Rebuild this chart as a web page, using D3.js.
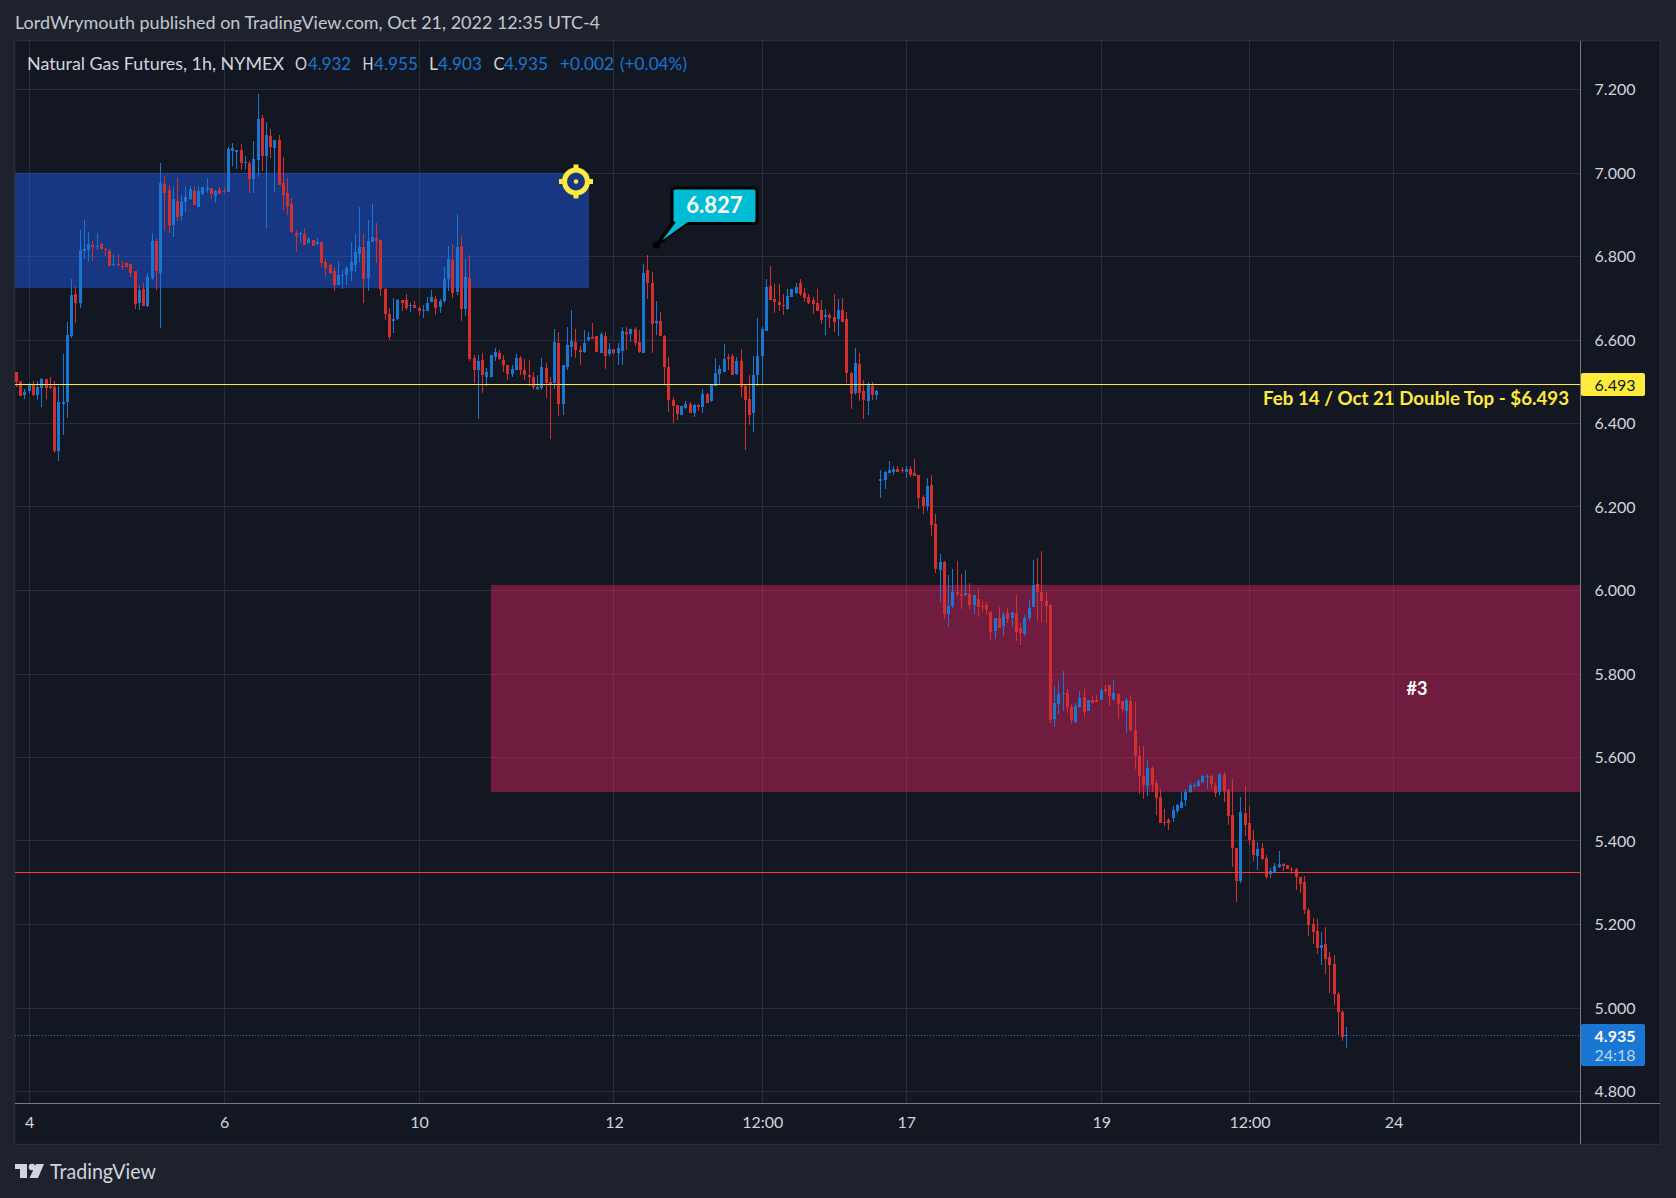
<!DOCTYPE html>
<html><head><meta charset="utf-8">
<script src="https://cdn.jsdelivr.net/npm/d3@7"></script>
<style>
html,body{margin:0;padding:0;background:#1e222d;overflow:hidden}
svg{display:block}
text{font-family:Lato,"Open Sans",sans-serif}
</style></head><body>
<svg id="c" width="1676" height="1198"></svg>
<script>
const opens=[6.523,6.501,6.468,6.477,6.494,6.468,6.485,6.506,6.489,6.487,
6.334,6.446,6.451,6.609,6.710,6.688,6.813,6.815,6.827,6.822,
6.830,6.818,6.813,6.779,6.782,6.777,6.784,6.782,6.765,6.688,
6.722,6.681,6.748,6.837,6.760,6.973,6.959,6.875,6.932,6.897,
6.930,6.937,6.956,6.918,6.949,6.959,6.964,6.944,6.959,6.956,
6.954,7.052,7.050,7.055,7.024,7.024,6.985,7.031,7.131,7.040,
7.088,7.059,7.079,6.976,6.952,6.925,6.856,6.853,6.853,6.832,
6.839,6.830,6.834,6.786,6.779,6.765,6.731,6.753,6.755,6.765,
6.779,6.806,6.822,6.748,6.834,6.844,6.839,6.722,6.662,6.645,
6.650,6.695,6.695,6.681,6.683,6.676,6.669,6.669,6.691,6.698,
6.679,6.693,6.746,6.791,6.715,6.824,6.675,6.749,6.558,6.527,
6.553,6.512,6.512,6.560,6.570,6.553,6.539,6.519,6.529,6.558,
6.529,6.517,6.512,6.483,6.486,6.534,6.500,6.498,6.594,6.447,
6.536,6.584,6.596,6.577,6.572,6.601,6.606,6.610,6.570,6.610,
6.567,6.579,6.570,6.574,6.620,6.615,6.627,6.596,6.570,6.768,
6.737,6.641,6.646,6.610,6.536,6.457,6.445,6.421,6.438,6.447,
6.426,6.445,6.440,6.471,6.455,6.491,6.519,6.524,6.560,6.562,
6.519,6.550,6.491,6.459,6.424,6.515,6.562,6.622,6.730,6.699,
6.692,6.685,6.675,6.704,6.713,6.737,6.713,6.704,6.697,6.689,
6.673,6.656,6.661,6.656,6.651,6.673,6.651,6.522,6.474,6.543,
6.479,6.455,6.491,6.469,6.263,6.265,6.282,6.285,6.292,6.289,
6.285,6.292,6.282,6.277,6.225,6.203,6.253,6.160,6.050,6.069,
5.944,5.964,5.997,5.992,5.990,5.992,5.966,5.980,5.964,5.966,
5.949,5.904,5.935,5.916,5.947,5.935,5.947,5.911,5.897,5.935,
5.961,6.016,5.997,5.976,5.966,5.693,5.727,5.753,5.755,5.722,
5.686,5.722,5.746,5.712,5.738,5.738,5.738,5.765,5.774,5.741,
5.753,5.736,5.712,5.736,5.665,5.603,5.555,5.531,5.574,5.538,
5.505,5.445,5.450,5.455,5.471,5.479,5.498,5.517,5.531,5.531,
5.541,5.554,5.555,5.531,5.517,5.558,5.522,5.462,5.383,5.304,
5.467,5.443,5.402,5.364,5.383,5.359,5.321,5.325,5.337,5.344,
5.342,5.332,5.332,5.313,5.301,5.234,5.201,5.184,5.143,5.153,
5.122,5.105,5.033,4.990,4.932];
const closes=[6.499,6.465,6.475,6.494,6.468,6.487,6.506,6.485,6.485,6.334,
6.451,6.451,6.612,6.707,6.688,6.815,6.818,6.830,6.822,6.825,
6.818,6.815,6.777,6.782,6.779,6.775,6.775,6.760,6.686,6.719,
6.681,6.751,6.837,6.765,6.976,6.952,6.873,6.937,6.894,6.930,
6.942,6.961,6.923,6.956,6.966,6.964,6.949,6.956,6.949,6.954,
7.057,7.059,7.055,7.024,7.026,6.985,7.033,7.129,7.040,7.091,
7.062,7.079,6.971,6.947,6.921,6.858,6.849,6.856,6.827,6.841,
6.825,6.834,6.784,6.772,6.760,6.731,6.755,6.755,6.772,6.786,
6.810,6.822,6.746,6.837,6.846,6.837,6.722,6.662,6.607,6.650,
6.695,6.688,6.676,6.683,6.676,6.669,6.671,6.688,6.703,6.676,
6.693,6.746,6.794,6.712,6.822,6.675,6.752,6.555,6.527,6.550,
6.517,6.524,6.565,6.572,6.555,6.539,6.519,6.531,6.558,6.529,
6.515,6.512,6.488,6.488,6.536,6.498,6.495,6.596,6.447,6.539,
6.589,6.598,6.577,6.572,6.594,6.606,6.603,6.572,6.615,6.562,
6.579,6.570,6.582,6.622,6.615,6.627,6.594,6.572,6.761,6.737,
6.639,6.646,6.610,6.536,6.457,6.443,6.423,6.443,6.447,6.426,
6.445,6.440,6.471,6.450,6.493,6.522,6.531,6.555,6.555,6.515,
6.550,6.488,6.457,6.421,6.515,6.562,6.627,6.728,6.697,6.692,
6.685,6.682,6.706,6.721,6.728,6.711,6.701,6.689,6.687,6.670,
6.649,6.661,6.653,6.644,6.673,6.644,6.522,6.471,6.546,6.474,
6.457,6.493,6.469,6.479,6.268,6.285,6.289,6.292,6.285,6.287,
6.292,6.277,6.275,6.222,6.203,6.251,6.158,6.052,6.069,5.944,
5.964,5.997,5.992,5.988,5.995,5.966,5.990,5.961,5.961,5.954,
5.901,5.935,5.911,5.942,5.932,5.949,5.901,5.899,5.935,5.959,
6.014,5.997,5.976,5.964,5.691,5.731,5.753,5.755,5.722,5.691,
5.724,5.743,5.710,5.738,5.731,5.734,5.762,5.760,5.748,5.755,
5.729,5.715,5.738,5.667,5.603,5.555,5.534,5.574,5.534,5.503,
5.443,5.443,5.443,5.474,5.486,5.493,5.517,5.534,5.534,5.543,
5.555,5.555,5.536,5.515,5.560,5.519,5.459,5.383,5.304,5.469,
5.438,5.402,5.366,5.380,5.356,5.313,5.328,5.340,5.344,5.340,
5.332,5.330,5.313,5.297,5.234,5.198,5.182,5.143,5.151,5.117,
5.103,5.033,4.990,4.930,4.935];
const highs=[6.523,6.501,6.482,6.497,6.501,6.501,6.509,6.506,6.511,6.501,
6.489,6.566,6.643,6.746,6.729,6.863,6.887,6.858,6.837,6.856,
6.832,6.820,6.818,6.803,6.806,6.789,6.786,6.782,6.765,6.731,
6.736,6.760,6.856,6.844,7.024,6.992,6.971,6.966,6.988,6.947,
6.968,6.968,6.968,6.968,6.966,6.988,6.964,6.959,6.966,6.966,
7.062,7.071,7.055,7.069,7.040,7.028,7.076,7.189,7.139,7.122,
7.105,7.079,7.091,7.038,6.988,6.940,6.863,6.858,6.868,6.846,
6.839,6.844,6.834,6.794,6.782,6.775,6.789,6.767,6.777,6.834,
6.853,6.918,6.853,6.887,6.925,6.880,6.839,6.724,6.676,6.700,
6.698,6.695,6.710,6.688,6.693,6.681,6.683,6.703,6.719,6.705,
6.698,6.775,6.825,6.830,6.901,6.852,6.795,6.804,6.565,6.565,
6.570,6.534,6.565,6.582,6.577,6.565,6.541,6.539,6.567,6.562,
6.555,6.553,6.524,6.515,6.558,6.546,6.512,6.627,6.618,6.539,
6.630,6.673,6.627,6.586,6.625,6.618,6.641,6.610,6.620,6.620,
6.594,6.579,6.594,6.632,6.632,6.627,6.630,6.625,6.783,6.804,
6.764,6.694,6.668,6.613,6.560,6.464,6.445,6.443,6.455,6.452,
6.447,6.447,6.483,6.474,6.495,6.558,6.541,6.591,6.567,6.567,
6.560,6.579,6.493,6.515,6.562,6.653,6.632,6.747,6.778,6.733,
6.735,6.709,6.721,6.723,6.737,6.745,6.725,6.711,6.704,6.723,
6.697,6.675,6.665,6.711,6.699,6.701,6.668,6.524,6.582,6.570,
6.503,6.500,6.500,6.481,6.289,6.287,6.311,6.299,6.299,6.297,
6.299,6.299,6.316,6.277,6.229,6.270,6.277,6.184,6.088,6.071,
6.036,6.052,6.071,6.040,6.050,6.019,5.990,6.007,5.976,5.973,
5.952,5.935,5.961,5.949,5.959,5.949,5.990,5.923,5.942,5.978,
6.074,6.079,6.095,5.997,5.968,5.772,5.784,5.808,5.765,5.729,
5.731,5.760,5.765,5.738,5.748,5.750,5.767,5.774,5.774,5.786,
5.755,5.736,5.743,5.750,5.733,5.627,5.627,5.594,5.579,5.546,
5.524,5.476,5.455,5.483,5.488,5.517,5.524,5.538,5.538,5.548,
5.558,5.560,5.560,5.541,5.560,5.565,5.524,5.548,5.383,5.505,
5.531,5.483,5.426,5.397,5.395,5.366,5.335,5.347,5.376,5.347,
5.342,5.337,5.335,5.313,5.316,5.239,5.215,5.213,5.182,5.194,
5.134,5.127,5.038,4.995,4.955];
const lows=[6.488,6.465,6.458,6.473,6.465,6.456,6.439,6.458,6.482,6.329,
6.310,6.372,6.413,6.604,6.640,6.676,6.794,6.786,6.789,6.815,
6.818,6.801,6.777,6.777,6.777,6.767,6.775,6.751,6.674,6.671,
6.681,6.679,6.743,6.719,6.628,6.861,6.856,6.846,6.885,6.885,
6.906,6.935,6.923,6.918,6.947,6.952,6.937,6.928,6.949,6.949,
6.954,7.016,7.009,7.007,7.009,6.952,6.952,6.990,7.004,6.868,
7.036,6.954,6.971,6.911,6.899,6.856,6.810,6.832,6.827,6.832,
6.825,6.827,6.775,6.751,6.758,6.717,6.731,6.722,6.731,6.741,
6.762,6.786,6.688,6.717,6.834,6.784,6.705,6.648,6.600,6.616,
6.648,6.669,6.671,6.667,6.676,6.660,6.652,6.669,6.691,6.660,
6.664,6.688,6.717,6.700,6.707,6.646,6.658,6.550,6.498,6.411,
6.474,6.491,6.512,6.550,6.553,6.524,6.503,6.512,6.529,6.515,
6.503,6.491,6.481,6.481,6.481,6.462,6.364,6.483,6.419,6.421,
6.527,6.560,6.558,6.541,6.570,6.598,6.603,6.572,6.570,6.531,
6.562,6.565,6.541,6.541,6.577,6.596,6.586,6.570,6.570,6.699,
6.570,6.613,6.610,6.493,6.428,6.400,6.409,6.421,6.435,6.426,
6.416,6.431,6.426,6.450,6.452,6.491,6.495,6.524,6.527,6.515,
6.515,6.464,6.337,6.397,6.380,6.491,6.493,6.622,6.697,6.665,
6.670,6.661,6.673,6.704,6.711,6.706,6.692,6.687,6.663,6.670,
6.639,6.613,6.629,6.618,6.610,6.644,6.498,6.435,6.469,6.455,
6.411,6.421,6.457,6.457,6.222,6.244,6.282,6.277,6.285,6.282,
6.270,6.273,6.275,6.196,6.184,6.191,6.131,6.043,5.973,5.932,
5.913,5.959,5.988,5.956,5.988,5.956,5.944,5.937,5.949,5.942,
5.882,5.885,5.911,5.892,5.921,5.913,5.880,5.870,5.892,5.928,
5.961,5.928,5.925,5.923,5.683,5.674,5.705,5.712,5.707,5.681,
5.683,5.719,5.698,5.712,5.731,5.734,5.738,5.755,5.724,5.736,
5.693,5.707,5.659,5.662,5.572,5.512,5.500,5.507,5.517,5.462,
5.443,5.435,5.426,5.445,5.467,5.479,5.483,5.515,5.527,5.529,
5.538,5.524,5.524,5.505,5.510,5.493,5.438,5.337,5.253,5.299,
5.412,5.390,5.352,5.330,5.354,5.309,5.311,5.325,5.335,5.328,
5.332,5.321,5.282,5.275,5.225,5.172,5.153,5.129,5.103,5.081,
5.036,5.007,4.933,4.921,4.903];

const priceTicks=[4.8,5.0,5.2,5.4,5.6,5.8,6.0,6.2,6.4,6.6,6.8,7.0,7.2];
const timeTickBars=[3,49,95,141,176,210,256,291,325];
const timeTickLabels=["4","6","10","12","12:00","17","19","12:00","24"];
const doubleTop=6.493, redLevel=5.3245, lastPrice=4.935, calloutPrice=6.827, calloutBar=151;
const blueZone={top:7.0,bottom:6.725,endBar:135.1};
const pinkZone={top:6.014,bottom:5.518,startBar:112};

const W=1676,H=1198, L=15,R=1580,OUT=1660,T=41,XA=1103,B=1144;
const C={bg:"#1e222d",pane:"#131722",grid:"#2a2e39",axis:"#787b86",up:"#1976d2",dn:"#d32f2f",text:"#d1d4dc",tick:"#d1d4dc",yellow:"#ffeb3b"};
const svg=d3.select("#c");
const y=d3.scaleLinear().domain([4.8,7.2]).range([1091.5,89.5]);
const x=d3.scaleLinear().domain([0,314]).range([16.5,1346.9]);
const fx=i=>Math.floor(x(i));
const py=v=>Math.round(y(v));

svg.append("rect").attr("width",W).attr("height",H).attr("fill",C.bg);
svg.append("rect").attr("x",L-.5).attr("y",T-.5).attr("width",OUT-L+1).attr("height",B-T+1).attr("fill",C.pane).attr("stroke",C.grid).attr("stroke-width",1.5);

// grid
const grid=svg.append("g").attr("shape-rendering","crispEdges").attr("stroke",C.grid).attr("stroke-width",1);
grid.selectAll(".h").data(priceTicks).join("line").attr("x1",L).attr("x2",R)
  .attr("y1",d=>Math.floor(y(d))+.5).attr("y2",d=>Math.floor(y(d))+.5);
grid.selectAll(".v").data(timeTickBars).join("line").attr("y1",T).attr("y2",XA)
  .attr("x1",d=>fx(d)+.5).attr("x2",d=>fx(d)+.5);

// zones
svg.append("rect").attr("x",L).attr("width",x(blueZone.endBar)-L)
  .attr("y",y(blueZone.top)).attr("height",y(blueZone.bottom)-y(blueZone.top))
  .attr("fill","rgb(33,98,255)").attr("fill-opacity",.44).attr("shape-rendering","crispEdges");
svg.append("rect").attr("x",x(pinkZone.startBar)).attr("width",R-x(pinkZone.startBar))
  .attr("y",y(pinkZone.top)).attr("height",y(pinkZone.bottom)-y(pinkZone.top))
  .attr("fill","rgb(233,37,99)").attr("fill-opacity",.44).attr("shape-rendering","crispEdges");

// candles
const bars=opens.map((o,i)=>({i,o,c:closes[i],h:highs[i],l:lows[i]}));
const cg=svg.append("g").attr("shape-rendering","crispEdges");
const col=d=>d.c>=d.o?C.up:C.dn;
cg.selectAll(".w").data(bars).join("rect").attr("x",d=>fx(d.i)).attr("width",1)
  .attr("y",d=>py(d.h)).attr("height",d=>Math.max(1,py(d.l)-py(d.h))).attr("fill",col);
cg.selectAll(".b").data(bars).join("rect").attr("x",d=>fx(d.i)-1).attr("width",3)
  .attr("y",d=>py(Math.max(d.o,d.c))).attr("height",d=>Math.max(1,py(Math.min(d.o,d.c))-py(Math.max(d.o,d.c)))).attr("fill",col);

// level lines
const lv=svg.append("g").attr("shape-rendering","crispEdges");
lv.append("line").attr("x1",L).attr("x2",R).attr("y1",Math.floor(y(doubleTop))+.5).attr("y2",Math.floor(y(doubleTop))+.5).attr("stroke",C.yellow);
lv.append("line").attr("x1",L).attr("x2",R).attr("y1",Math.floor(y(redLevel))+.5).attr("y2",Math.floor(y(redLevel))+.5).attr("stroke","#f23645");
lv.append("line").attr("x1",L).attr("x2",R).attr("y1",Math.floor(y(lastPrice))+.5).attr("y2",Math.floor(y(lastPrice))+.5).attr("stroke",C.up).attr("stroke-dasharray","1 2");

// axis frame lines
svg.append("line").attr("x1",R+.5).attr("x2",R+.5).attr("y1",T).attr("y2",B).attr("stroke",C.axis).attr("shape-rendering","crispEdges");
svg.append("line").attr("x1",L).attr("x2",OUT).attr("y1",XA+.5).attr("y2",XA+.5).attr("stroke",C.axis).attr("shape-rendering","crispEdges");

// axes
const ya=svg.append("g").attr("transform",`translate(${R},0)`)
  .call(d3.axisRight(y).tickValues(priceTicks).tickFormat(d3.format(".3f")).tickSize(0));
ya.select(".domain").remove();
ya.selectAll("text").attr("x",55.5).attr("text-anchor","end").attr("fill",C.tick).attr("font-size",16).attr("font-family","Lato");
const xa=svg.append("g").attr("transform",`translate(0,${XA})`)
  .call(d3.axisBottom(x).tickValues(timeTickBars).tickFormat((d,i)=>timeTickLabels[i]).tickSize(0));
xa.select(".domain").remove();
xa.selectAll("text").attr("y",14).attr("dy","0.71em").attr("fill",C.tick).attr("font-size",16).attr("font-family","Lato");

// price badges
svg.append("rect").attr("x",R+1).attr("y",373).attr("width",64).attr("height",23).attr("rx",2).attr("fill",C.yellow);
svg.append("text").attr("x",1635.5).attr("y",385).attr("dy",".35em").attr("text-anchor","end").attr("font-size",16).attr("fill",C.pane).text(d3.format(".3f")(doubleTop));
svg.append("rect").attr("x",R+1).attr("y",1024).attr("width",64).attr("height",42).attr("rx",2).attr("fill",C.up);
svg.append("text").attr("x",1635.5).attr("y",1036).attr("dy",".35em").attr("text-anchor","end").attr("font-size",16).attr("font-weight",700).attr("fill","#fff").text(d3.format(".3f")(lastPrice));
svg.append("text").attr("x",1635.5).attr("y",1055).attr("dy",".35em").attr("text-anchor","end").attr("font-size",16).attr("fill","#bbd6f2").text("24:18");

// annotations
svg.append("text").attr("x",1263).attr("y",399).attr("dy",".35em").attr("textLength",306).attr("lengthAdjust","spacingAndGlyphs").attr("font-size",18).attr("font-weight",700).attr("fill",C.yellow).text("Feb 14 / Oct 21 Double Top - $6.493");
svg.append("text").attr("x",1417).attr("y",689).attr("dy",".35em").attr("text-anchor","middle").attr("font-size",18).attr("font-weight",700).attr("fill","#fff").text("#3");

// callout
const ax=x(calloutBar), ay=y(calloutPrice);
const co=svg.append("g");
co.append("path").attr("d",`M${ax},${ay}L674,221L690,221Z`).attr("fill","#000").attr("stroke","#000").attr("stroke-width",3).attr("stroke-linejoin","round");
co.append("rect").attr("x",672).attr("y",188).attr("width",85).attr("height",35.5).attr("rx",3).attr("fill","#00bcd4").attr("stroke","#000").attr("stroke-width",3);
co.append("path").attr("d",`M${ax+6},${ay-5}L676,222L688,222Z`).attr("fill","#00bcd4");
co.append("circle").attr("cx",ax).attr("cy",ay).attr("r",3.5).attr("fill","#000");
co.append("text").attr("x",714.5).attr("y",205).attr("dy",".35em").attr("text-anchor","middle").attr("font-size",22).attr("font-weight",700).attr("fill","#fff").text(d3.format(".3f")(calloutPrice));

// target icon
const tg=svg.append("g").attr("transform","translate(576,181.5)").attr("stroke",C.yellow).attr("fill","none");
tg.append("circle").attr("r",11.5).attr("stroke-width",5);
[[-17,0,-10,0],[10,0,17,0],[0,-17,0,-10],[0,10,0,17]].forEach(s=>tg.append("line").attr("x1",s[0]).attr("y1",s[1]).attr("x2",s[2]).attr("y2",s[3]).attr("stroke-width",5));
tg.append("circle").attr("r",2.2).attr("fill",C.yellow).attr("stroke","none");

// header
function fit(x0,w,yy,s,fill,size,weight){
  return svg.append("text").attr("x",x0).attr("y",yy).attr("dy",".35em").attr("textLength",w).attr("lengthAdjust","spacingAndGlyphs")
    .attr("font-size",size).attr("font-weight",weight||400).attr("fill",fill).text(s);
}
fit(15,585,23,"LordWrymouth published on TradingView.com, Oct 21, 2022 12:35 UTC-4","#c4c7cf",17);
fit(27,257,64,"Natural Gas Futures, 1h, NYMEX",C.text,17);
const legendItems=[[295,12,"O",C.text],[308,43,"4.932",C.up],[362.5,11,"H",C.text],[374,44,"4.955",C.up],[429,9,"L",C.text],[438,44,"4.903",C.up],[493.5,11,"C",C.text],[504,44,"4.935",C.up],[560,54,"+0.002",C.up],[620,67,"(+0.04%)",C.up]];
legendItems.forEach(d=>fit(d[0],d[1],64,d[2],d[3],17));

// footer logo
const lg=svg.append("g").attr("fill",C.text);
lg.append("path").attr("d","M15,1164H27V1178H20V1169H15Z");
lg.append("circle").attr("cx",32).attr("cy",1167).attr("r",3.3);
lg.append("path").attr("d","M36,1164H44L38,1178H29.5Z");
fit(50,106,1172,"TradingView",C.text,21);
</script>
</body></html>
